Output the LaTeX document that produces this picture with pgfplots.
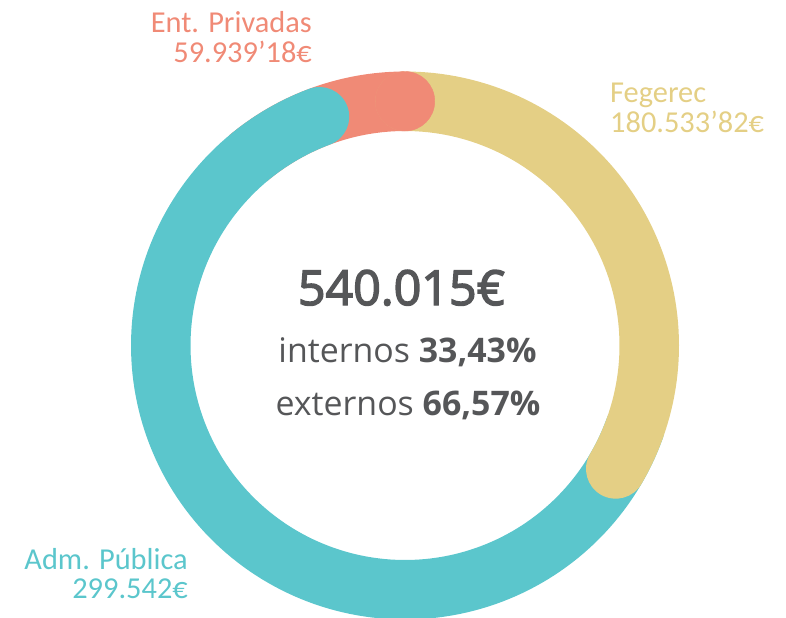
\documentclass[border=0pt]{standalone}
\usepackage{pgfplots}
\pgfplotsset{compat=1.18}
\usepackage{fontspec}
\setmainfont{Carlito}
\newfontfamily\osans{Open Sans}
\newfontfamily\osansmed[FakeBold=3]{Open Sans}

\definecolor{cteal}{RGB}{91,198,204}
\definecolor{csalmon}{RGB}{240,138,118}
\definecolor{cyellow}{RGB}{228,207,133}
\definecolor{cgray}{RGB}{85,86,88}

% importes en miles de euros
\def\fegerec{180.53382}
\def\privadas{59.93918}
\def\publica{299.542}
\def\total{540.015}

\begin{document}
\begin{tikzpicture}
\pgfmathsetmacro\yend{90-360*(\fegerec/\total)}
\begin{axis}[
    at={(0,0)}, anchor=south west,
    width=786bp, height=618bp, scale only axis,
    xmin=0, xmax=786, ymin=0, ymax=618, y dir=reverse,
    hide axis, clip=true,
]
% Ent. Privadas (tramo bajo los otros)
\addplot[domain=90:130, samples=40, line width=59.5bp, color=csalmon]
    ({405+244.25*cos(x)}, {345.5-244.25*sin(x)});
% Adm. Publica
\addplot[domain=110.5:340, samples=150, line width=59.5bp, line cap=round, color=cteal]
    ({405+244.25*cos(x)}, {345.5-244.25*sin(x)});
% Fegerec
\addplot[domain=\yend:90, samples=80, line width=59.5bp, line cap=round, color=cyellow]
    ({405+244.25*cos(x)}, {345.5-244.25*sin(x)});
% remate redondeado de Ent. Privadas
\addplot[only marks, mark=*, mark size=29.75bp, color=csalmon, mark options={draw=none}]
    coordinates {(405,101.25)};

\node[anchor=base, text=cgray, font=\osansmed\fontsize{48.5}{50}\selectfont] at (axis cs:401.5,305) {540.015€};
\node[anchor=base, text=cgray, font=\osans\fontsize{34}{36}\selectfont] at (axis cs:407.5,362) {internos \textbf{33,43\%}};
\node[anchor=base, text=cgray, font=\osans\fontsize{34}{36}\selectfont] at (axis cs:408,415) {externos \textbf{66,57\%}};

\node[anchor=base east, inner sep=0pt, text=csalmon, font=\fontsize{30.5}{32}\selectfont] at (axis cs:312,33) {Ent. Privadas};
\node[anchor=base east, inner sep=0pt, text=csalmon, font=\fontsize{30.5}{32}\selectfont] at (axis cs:312,63) {59.939’18€};
\node[anchor=base west, inner sep=0pt, text=cyellow, font=\fontsize{30.5}{32}\selectfont] at (axis cs:610,102) {Fegerec};
\node[anchor=base west, inner sep=0pt, text=cyellow, font=\fontsize{30.5}{32}\selectfont] at (axis cs:610,132) {180.533’82€};
\node[anchor=base east, inner sep=0pt, text=cteal, font=\fontsize{30.5}{32}\selectfont] at (axis cs:188,569) {Adm. Pública};
\node[anchor=base east, inner sep=0pt, text=cteal, font=\fontsize{30.5}{32}\selectfont] at (axis cs:188,598) {299.542€};
\end{axis}
\pgfresetboundingbox
\useasboundingbox (0,0) rectangle (786bp,618bp);
\end{tikzpicture}
\end{document}
